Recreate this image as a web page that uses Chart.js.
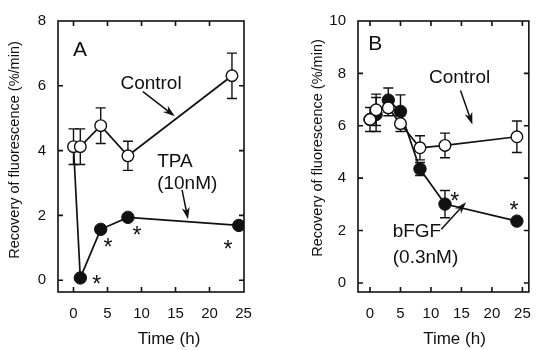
<!DOCTYPE html>
<html><head><meta charset="utf-8">
<script src="https://cdn.jsdelivr.net/npm/chart.js@4/dist/chart.umd.min.js"></script>
<style>
html,body{margin:0;padding:0;background:#fff;}
#wrap{position:relative;width:544px;height:350px;overflow:hidden;}
.c{position:absolute;top:0;width:272px;height:350px;}
</style></head><body>
<div id="wrap">
<div class="c" style="left:0"><canvas id="cA" width="272" height="350"></canvas></div>
<div class="c" style="left:272px"><canvas id="cB" width="272" height="350"></canvas></div>
</div>
<script>
// ---------- Panel A data ----------
const timeA_control = [0, 1, 4, 8, 23.3];
const controlA      = [4.12, 4.12, 4.77, 3.84, 6.31];
const controlA_err  = [0.55, 0.55, 0.55, 0.45, 0.70];
const timeA_tpa     = [0, 1, 4, 8, 24.3];
const tpaA          = [4.12, 0.07, 1.57, 1.94, 1.69];
const tpaA_err      = [0, 0, 0, 0, 0];
const yTicksA = [0, 2, 4, 6, 8];
const xTicks  = [0, 5, 10, 15, 20, 25];
// ---------- Panel B data ----------
const timeB        = [0, 1, 3, 5, 8.2, 12.3, 24.1];
const controlB     = [6.24, 6.61, 6.68, 6.08, 5.16, 5.25, 5.58];
const controlB_err = [0.46, 0.60, 0.30, 0.30, 0.46, 0.47, 0.60];
const bfgfB        = [6.24, 6.43, 6.98, 6.55, 4.35, 3.01, 2.36];
const bfgfB_err    = [0, 0.65, 0.46, 0.63, 0.25, 0.52, 0];
const yTicksB = [0, 2, 4, 6, 8, 10];

const FONT = '"Liberation Sans", Arial, Helvetica, sans-serif';
const INK = '#111';

const pts = (xs, ys) => xs.map((x, i) => ({x, y: ys[i]}));

const boxPlugin = {
  id: 'boxTicks',
  afterDraw(chart, args, o) {
    const {ctx, chartArea: a, scales: {x, y}} = chart;
    ctx.save();
    ctx.strokeStyle = INK; ctx.lineWidth = 1.6;
    ctx.strokeRect(a.left, a.top, a.right - a.left, a.bottom - a.top);
    ctx.beginPath();
    const L = 5;
    o.xt.forEach(v => { const p = x.getPixelForValue(v);
      if (p > a.left + 1 && p < a.right - 1) { ctx.moveTo(p, a.bottom); ctx.lineTo(p, a.bottom - L); ctx.moveTo(p, a.top); ctx.lineTo(p, a.top + L); } });
    o.yt.forEach(v => { const p = y.getPixelForValue(v);
      if (p > a.top + 1 && p < a.bottom - 1) { ctx.moveTo(a.left, p); ctx.lineTo(a.left + L, p); ctx.moveTo(a.right, p); ctx.lineTo(a.right - L, p); } });
    ctx.stroke();
    ctx.restore();
  }
};

const errPlugin = {
  id: 'errBars',
  beforeDatasetsDraw(chart) {
    const {ctx, scales: {x, y}} = chart;
    ctx.save(); ctx.strokeStyle = INK; ctx.lineWidth = 1.4;
    chart.data.datasets.forEach(ds => {
      if (!ds.err) return;
      ds.data.forEach((p, i) => {
        const e = ds.err[i]; if (!e) return;
        const px = x.getPixelForValue(p.x);
        const y1 = y.getPixelForValue(p.y + e), y2 = y.getPixelForValue(p.y - e);
        ctx.beginPath();
        ctx.moveTo(px, y1); ctx.lineTo(px, y2);
        ctx.moveTo(px - 5, y1); ctx.lineTo(px + 5, y1);
        ctx.moveTo(px - 5, y2); ctx.lineTo(px + 5, y2);
        ctx.stroke();
      });
    });
    ctx.restore();
  }
};

const notePlugin = {
  id: 'notes',
  afterDatasetsDraw(chart, args, o) {
    const {ctx, scales: {x, y}} = chart;
    ctx.save();
    ctx.fillStyle = INK; ctx.strokeStyle = INK;
    (o.texts || []).forEach(t => {
      ctx.font = (t.size || 19) + 'px ' + FONT;
      ctx.textAlign = t.align || 'center';
      ctx.textBaseline = 'middle';
      ctx.fillText(t.text, x.getPixelForValue(t.x), y.getPixelForValue(t.y));
    });
    (o.stars || []).forEach(s => {
      ctx.font = '23px ' + FONT;
      ctx.textAlign = 'center'; ctx.textBaseline = 'alphabetic';
      ctx.fillText('*', x.getPixelForValue(s[0]), y.getPixelForValue(s[1]) + 0.58 * 23);
    });
    (o.arrows || []).forEach(ar => {
      const x1 = x.getPixelForValue(ar[0]), y1 = y.getPixelForValue(ar[1]);
      const x2 = x.getPixelForValue(ar[2]), y2 = y.getPixelForValue(ar[3]);
      const ang = Math.atan2(y2 - y1, x2 - x1), L = 12, W = 4;
      ctx.lineWidth = 1.5;
      ctx.beginPath(); ctx.moveTo(x1, y1); ctx.lineTo(x2 - L * 0.6 * Math.cos(ang), y2 - L * 0.6 * Math.sin(ang)); ctx.stroke();
      ctx.beginPath();
      ctx.moveTo(x2, y2);
      ctx.lineTo(x2 - L * Math.cos(ang) + W * Math.sin(ang), y2 - L * Math.sin(ang) - W * Math.cos(ang));
      ctx.lineTo(x2 - L * 0.7 * Math.cos(ang), y2 - L * 0.7 * Math.sin(ang));
      ctx.lineTo(x2 - L * Math.cos(ang) - W * Math.sin(ang), y2 - L * Math.sin(ang) + W * Math.cos(ang));
      ctx.closePath(); ctx.fill();
    });
    ctx.restore();
  }
};

const titlePlugin = {
  id: 'axTitles',
  afterDraw(chart, args, o) {
    const {ctx} = chart;
    ctx.save(); ctx.fillStyle = INK;
    ctx.textAlign = 'center'; ctx.textBaseline = 'middle';
    ctx.font = '17px ' + FONT;
    ctx.fillText(o.xTitle, o.xPos[0], o.xPos[1]);
    ctx.translate(o.yPos[0], o.yPos[1]); ctx.rotate(-Math.PI / 2);
    ctx.font = '14.5px ' + FONT;
    ctx.fillText(o.yTitle, 0, 0);
    ctx.restore();
  }
};

function makeChart(id, cfg) {
  return new Chart(document.getElementById(id), {
    type: 'scatter',
    data: { datasets: cfg.datasets },
    options: {
      responsive: false, animation: false, devicePixelRatio: 1,
      layout: { padding: cfg.padding },
      plugins: {
        legend: { display: false }, tooltip: { enabled: false },
        boxTicks: { xt: xTicks, yt: cfg.yTicks },
        notes: cfg.notes,
        axTitles: cfg.titles
      },
      scales: {
        x: {
          type: 'linear', min: cfg.xmin, max: cfg.xmax,
          afterBuildTicks: s => { s.ticks = xTicks.map(v => ({value: v})); },
          afterFit: s => { s.height = cfg.xh; },
          grid: { display: false, drawTicks: false }, border: { display: false },
          ticks: { color: INK, font: { family: FONT, size: 15 }, padding: 13, maxRotation: 0 }
        },
        y: {
          type: 'linear', min: cfg.ymin, max: cfg.ymax,
          afterBuildTicks: s => { s.ticks = cfg.yTicks.map(v => ({value: v})); },
          afterFit: s => { s.width = cfg.yw; },
          grid: { display: false, drawTicks: false }, border: { display: false },
          ticks: { color: INK, font: { family: FONT, size: 15 }, padding: 12 }
        }
      }
    },
    plugins: [errPlugin, notePlugin, boxPlugin, titlePlugin]
  });
}

const openStyle = { borderColor: INK, backgroundColor: '#fff', pointBackgroundColor: '#fff', pointBorderColor: INK,
  pointRadius: 5.8, pointBorderWidth: 1.4, borderWidth: 1.7, showLine: true };
const fillStyle = { borderColor: INK, backgroundColor: INK, pointBackgroundColor: INK, pointBorderColor: INK,
  pointRadius: 6.2, pointBorderWidth: 1, borderWidth: 1.7, showLine: true };

makeChart('cA', {
  datasets: [
    Object.assign({ label: 'Control', data: pts(timeA_control, controlA), err: controlA_err }, openStyle),
    Object.assign({ label: 'TPA (10nM)', data: pts(timeA_tpa, tpaA), err: tpaA_err }, fillStyle, { pointRadius: [0, 6.2, 6.2, 6.2, 6.2] })
  ],
  padding: { left: 0, top: 16, right: 28, bottom: 0 },
  xmin: -2.28, xmax: 25.07, ymin: -0.364, ymax: 8, yTicks: yTicksA, xh: 58, yw: 58,
  notes: {
    texts: [
      { text: 'A', x: -0.07, y: 7.09, size: 21, align: 'left' },
      { text: 'Control', x: 11.4, y: 6.06 },
      { text: 'TPA', x: 12.3, y: 3.67, align: 'left' },
      { text: '(10nM)', x: 12.3, y: 2.97, align: 'left' }
    ],
    stars: [[3.4, 0.06], [5.07, 1.18], [9.34, 1.55], [22.7, 1.12]],
    arrows: [[10.2, 5.82, 14.9, 5.06], [15.96, 2.79, 16.84, 1.88]]
  },
  titles: { xTitle: 'Time (h)', xPos: [169, 339], yTitle: 'Recovery of fluorescence (%/min)', yPos: [15, 150] }
});

makeChart('cB', {
  datasets: [
    Object.assign({ label: 'Control', data: pts(timeB, controlB), err: controlB_err }, openStyle),
    Object.assign({ label: 'bFGF (0.3nM)', data: pts(timeB, bfgfB), err: bfgfB_err }, fillStyle)
  ],
  padding: { left: 0, top: 14, right: 1, bottom: 0 },
  xmin: -1.97, xmax: 26.06, ymin: -0.346, ymax: 10, yTicks: yTicksB, xh: 58, yw: 86,
  notes: {
    texts: [
      { text: 'B', x: -0.3, y: 9.13, size: 21, align: 'left' },
      { text: 'Control', x: 14.7, y: 7.84 },
      { text: 'bFGF', x: 7.7, y: 1.96 },
      { text: '(0.3nM)', x: 9.1, y: 0.96 }
    ],
    stars: [[13.9, 3.34], [23.6, 2.97]],
    arrows: [[11.7, 2.05, 15.76, 3.08]].concat([[14.85, 7.35, 16.8, 6.05]])
  },
  titles: { xTitle: 'Time (h)', xPos: [182.5, 339], yTitle: 'Recovery of fluorescence (%/min)', yPos: [46, 148] }
});
</script>
</body></html>
